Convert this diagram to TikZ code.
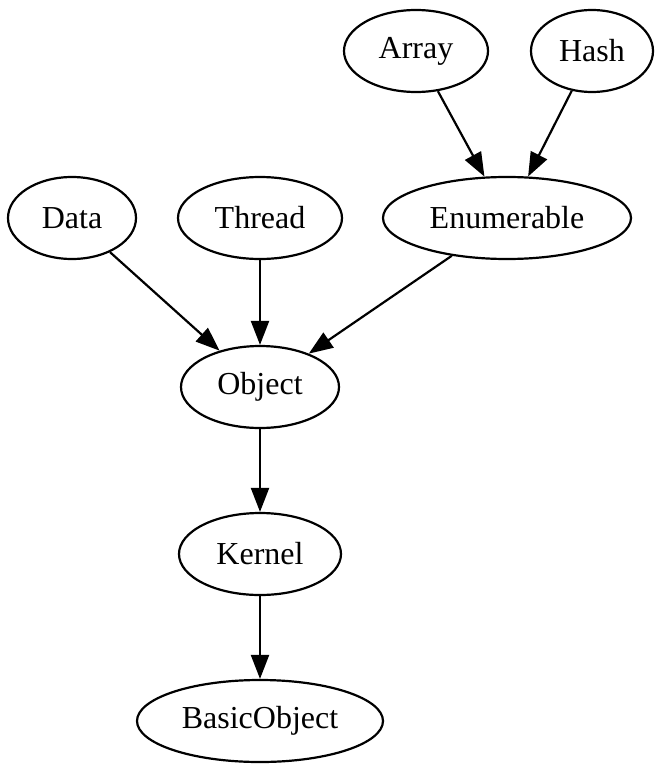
\documentclass[tikz,border=0pt]{standalone}
\usepackage{fontspec}
\setmainfont{Liberation Serif}
\usetikzlibrary{shapes.geometric,arrows.meta}
\begin{document}
\begin{tikzpicture}[x=1pt,y=-1pt,
  cls/.style={draw, ellipse, line width=2.2pt, inner sep=0pt, minimum height=82pt,
    font=\fontsize{32}{38}\selectfont},
  dep/.style={line width=2.2pt, -{Triangle[length=24pt,width=18pt]}, shorten >=0pt}]
\useasboundingbox (0,0) rectangle (655,765);
\node[cls, minimum width=144pt] (array) at (416,51) {Array};
\node[cls, minimum width=122pt] (hash) at (592,51) {Hash};
\node[cls, minimum width=128pt] (data) at (72,218) {Data};
\node[cls, minimum width=164pt] (thread) at (260,218) {Thread};
\node[cls, minimum width=248pt] (enum) at (507,218) {Enumerable};
\node[cls, minimum width=158pt] (object) at (260,387) {Object};
\node[cls, minimum width=162pt] (kernel) at (260,554) {Kernel};
\node[cls, minimum width=246pt] (basic) at (260,721) {BasicObject};
\draw[dep] (array) -- (enum);
\draw[dep] (hash) -- (enum);
\draw[dep] (data) -- (object);
\draw[dep] (thread) -- (object);
\draw[dep] (enum) -- (object);
\draw[dep] (object) -- (kernel);
\draw[dep] (kernel) -- (basic);
\end{tikzpicture}
\end{document}
